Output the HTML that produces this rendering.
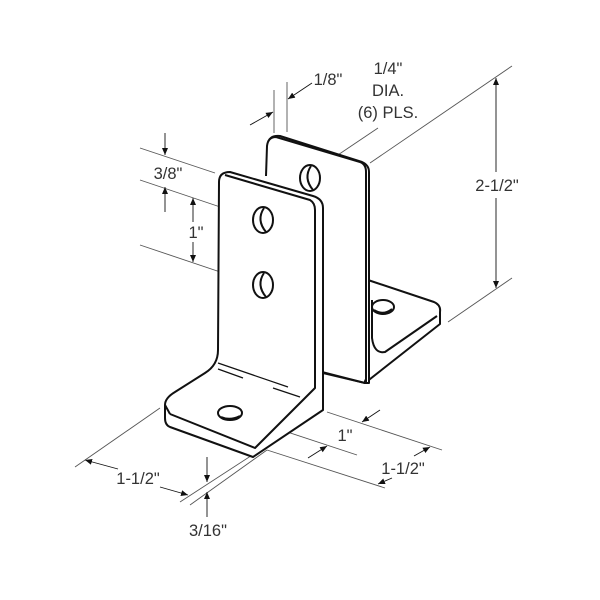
<!DOCTYPE html>
<html><head><style>
html,body{margin:0;padding:0;background:#fff;width:600px;height:600px;overflow:hidden}
text{font-family:"Liberation Sans",sans-serif;fill:#333;font-size:16.5px}
</style></head><body>
<svg width="600" height="600" viewBox="0 0 600 600" xmlns="http://www.w3.org/2000/svg">
<defs>
<marker id="a" markerWidth="8" markerHeight="8" refX="7" refY="3" orient="auto" markerUnits="userSpaceOnUse"><path d="M0,0 L7,3 L0,6 Z" fill="#111"/></marker>
</defs>
<g fill="none" stroke="#555" stroke-width="0.9">
<line x1="140" y1="148" x2="215" y2="173"/>
<line x1="140" y1="180" x2="250" y2="217"/>
<line x1="140" y1="245" x2="250" y2="282"/>
<line x1="274" y1="90" x2="274" y2="133"/>
<line x1="287" y1="82" x2="287" y2="132"/>
<line x1="378" y1="128" x2="320" y2="167"/>
<line x1="370" y1="163" x2="512" y2="66"/>
<line x1="448" y1="322" x2="512" y2="278"/>
<line x1="160" y1="408" x2="75" y2="467"/>
<line x1="180" y1="502" x2="260" y2="450"/>
<line x1="190" y1="505" x2="267" y2="450"/>
<line x1="267" y1="450" x2="385" y2="488"/>
<line x1="327" y1="412" x2="442" y2="450"/>
<line x1="245" y1="418" x2="357" y2="455"/>
</g>
<g fill="none" stroke="#111" stroke-width="0.9" marker-end="url(#a)">
<line x1="165" y1="133" x2="165" y2="155"/>
<line x1="165" y1="212" x2="165" y2="187"/>
<line x1="193" y1="222" x2="193" y2="198"/>
<line x1="193" y1="242" x2="193" y2="262"/>
<line x1="250" y1="125" x2="273" y2="112"/>
<line x1="312" y1="83" x2="288" y2="99"/>
<line x1="496" y1="172" x2="496" y2="78"/>
<line x1="496" y1="198" x2="496" y2="288"/>
<line x1="118" y1="469" x2="85" y2="460"/>
<line x1="160" y1="487" x2="188" y2="495"/>
<line x1="207" y1="457" x2="207" y2="482"/>
<line x1="207" y1="517" x2="207" y2="492"/>
<line x1="392" y1="478" x2="378" y2="484"/>
<line x1="414" y1="456" x2="430" y2="447"/>
<line x1="308" y1="458" x2="327" y2="446"/>
<line x1="380" y1="410" x2="362" y2="422"/>
</g>
<g fill="#fff" stroke="#111" stroke-width="2" stroke-linejoin="round">
<path d="M368,280 L434,302 Q441,305 440,312 L440,324 L365,383 L318,371 L318,290 Z"/>
<path d="M372,300 L372,338 Q374,354 385,352 L437,316" />
<ellipse cx="383" cy="307" rx="11" ry="7"/>
<path d="M374,310 Q383,316 392,309" fill="none"/>
<path d="M268,178 L268,145 Q268,135 280,136 L362,162 Q369,165 369,172 L369,383 L365,383 L365,172 Q365,166 360,164 L278,140" />
<path d="M266,176 L267,146 Q268,137 276,137 L360,162 Q366,164 366,172 L366,383"/>
<ellipse cx="310" cy="178" rx="10" ry="13"/>
<path d="M311,166 Q303,178 313,190" fill="none"/>
<path d="M219,182 Q219,172 230,172 L313,196 Q323,199 323,208 L323,410 L253,457 L170,427 Q165,425 165,418 L165,405 Q165,398 175,392 L205,373 Q218,365 218,350 Z"/>
<path d="M225,175 L310,200 Q315,203 315,210 L315,388 L255,448 L170,414" fill="none"/>
<path d="M165,405 L170,414" fill="none"/>
<ellipse cx="263" cy="220" rx="10" ry="13"/>
<path d="M264,208 Q256,220 266,232" fill="none"/>
<ellipse cx="263" cy="285" rx="10" ry="13"/>
<path d="M264,273 Q256,285 266,297" fill="none"/>
<ellipse cx="230" cy="413" rx="12" ry="7"/>
<path d="M221,417 Q230,421 240,416" fill="none"/>
</g>
<line x1="323" y1="373" x2="365" y2="383" stroke="#111" stroke-width="2"/>
<g stroke="#111" stroke-width="1.2">
<line x1="218" y1="363" x2="288" y2="387"/>
<line x1="218" y1="369" x2="243" y2="378"/>
<line x1="273" y1="388" x2="300" y2="397"/>
</g>
<text x="168" y="179" text-anchor="middle">3/8"</text>
<text x="196" y="238" text-anchor="middle">1"</text>
<text x="328" y="85" text-anchor="middle">1/8"</text>
<text x="388" y="74" text-anchor="middle">1/4"</text>
<text x="388" y="96" text-anchor="middle">DIA.</text>
<text x="388" y="118" text-anchor="middle">(6) PLS.</text>
<text x="497" y="191" text-anchor="middle">2-1/2"</text>
<text x="138" y="484" text-anchor="middle">1-1/2"</text>
<text x="208" y="536" text-anchor="middle">3/16"</text>
<text x="403" y="474" text-anchor="middle">1-1/2"</text>
<text x="345" y="441" text-anchor="middle">1"</text>
</svg>
</body></html>
